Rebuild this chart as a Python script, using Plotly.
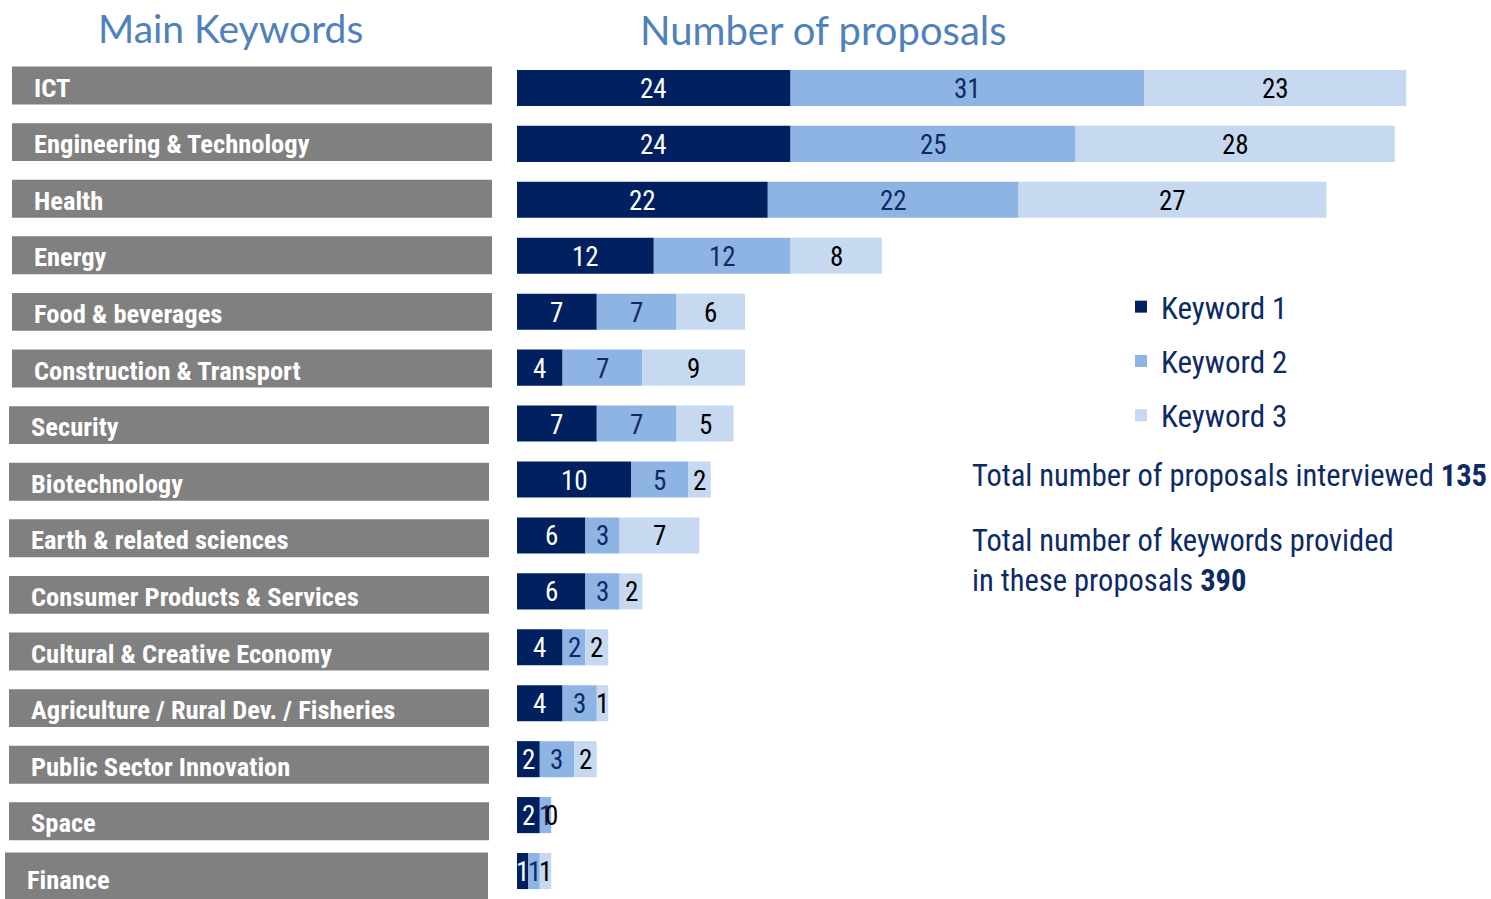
import plotly.graph_objects as go

categories = ["ICT", "Engineering & Technology", "Health", "Energy", "Food & beverages",
              "Construction & Transport", "Security", "Biotechnology", "Earth & related sciences",
              "Consumer Products & Services", "Cultural & Creative Economy",
              "Agriculture / Rural Dev. / Fisheries", "Public Sector Innovation", "Space", "Finance"]
keyword1 = [24, 24, 22, 12, 7, 4, 7, 10, 6, 6, 4, 4, 2, 2, 1]
keyword2 = [31, 25, 22, 12, 7, 7, 7, 5, 3, 3, 2, 3, 3, 1, 1]
keyword3 = [23, 28, 27, 8, 6, 9, 5, 2, 7, 2, 2, 1, 2, 0, 1]
series_names = ["Keyword 1", "Keyword 2", "Keyword 3"]
total_proposals = 135
total_keywords = 390

W, H = 1491, 899
TOP = 60
PH = H - TOP
NARROW = "Liberation Sans Narrow, Arial Narrow, Roboto Condensed, sans-serif"
colors = ["#002060", "#8EB4E3", "#C6D9F1"]
text_colors = ["#FFFFFF", "#0E2A66", "#000000"]
n = len(categories)
idx = list(range(n))


def py(px):
    """pixel row (from top of figure) -> paper y"""
    return (H - px) / PH


fig = go.Figure()
annotations = []

# grey category boxes (left panel)
box_left = [12 if i < 6 else (9 if i < n - 1 else 5) for i in idx]
box_len = [480] * (n - 1) + [483]
box_width = [0.67] * (n - 1) + [0.9]
fig.add_trace(go.Bar(
    y=idx, x=box_len, base=box_left, orientation="h",
    marker=dict(color="#808080", line=dict(width=0)), width=box_width,
    xaxis="x2", yaxis="y2", showlegend=False, hoverinfo="skip"))
for i, (cat, b) in enumerate(zip(categories, box_left)):
    annotations.append(dict(
        text=cat, x=b + 20, y=i, xref="x2", yref="y2", showarrow=False,
        xanchor="left", yanchor="middle", yshift=-1.5,
        font=dict(family=NARROW, size=26.5, color="white", weight="bold")))

# stacked bars
series = [keyword1, keyword2, keyword3]
cum = [0] * n
for name, vals, col, tcol in zip(series_names, series, colors, text_colors):
    fig.add_trace(go.Bar(
        y=idx, x=vals, base=cum, orientation="h", name=name,
        marker=dict(color=col, line=dict(width=0)), width=0.645,
        legendgroup=name, hoverinfo="x+name"))
    for i, (c, v) in enumerate(zip(cum, vals)):
        annotations.append(dict(
            text=str(v), x=c + v / 2, y=i, xref="x", yref="y", showarrow=False,
            xanchor="center", yanchor="middle", yshift=-1,
            font=dict(family=NARROW, size=27, color=tcol)))
    cum = [c + v for c, v in zip(cum, vals)]

title_font = "Lato, Open Sans, sans-serif"
annotations += [
    dict(text="Main Keywords", x=231 / W, y=py(28), xref="paper", yref="paper",
         showarrow=False, font=dict(family=title_font, size=39, color="#4F81BD"),
         xanchor="center", yanchor="middle"),
    dict(text="Number of proposals", x=823 / W, y=py(30), xref="paper", yref="paper",
         showarrow=False, font=dict(family=title_font, size=40, color="#4F81BD"),
         xanchor="center", yanchor="middle"),
    dict(text=f"Total number of proposals interviewed <b>{total_proposals}</b>",
         x=970 / W, y=py(476), xref="paper", yref="paper", showarrow=False,
         xanchor="left", yanchor="middle", align="left",
         font=dict(family=NARROW, size=30.5, color="#0E2A66")),
    dict(text=f"Total number of keywords provided<br>in these proposals <b>{total_keywords}</b>",
         x=970 / W, y=py(560), xref="paper", yref="paper", showarrow=False,
         xanchor="left", yanchor="middle", align="left",
         font=dict(family=NARROW, size=30.5, color="#0E2A66")),
]

px_per_unit = 11.4
x0_px = 517
fig.update_layout(
    width=W, height=H,
    margin=dict(l=0, r=0, t=TOP, b=0, pad=0),
    paper_bgcolor="white", plot_bgcolor="white",
    barmode="overlay",
    showlegend=True,
    legend=dict(x=1121 / W, y=py(280), xanchor="left", yanchor="top",
                font=dict(family=NARROW, size=31, color="#0E2A66"),
                tracegroupgap=11, bgcolor="rgba(0,0,0,0)", traceorder="grouped"),
    xaxis=dict(domain=[x0_px / W, 1], range=[0, (W - x0_px) / px_per_unit],
               visible=False, fixedrange=True),
    yaxis=dict(range=[n - 0.5, -0.5], visible=False, fixedrange=True),
    xaxis2=dict(domain=[0, 510 / W], range=[0, 510], visible=False, anchor="y2"),
    yaxis2=dict(range=[(H - 85.5) / 56.6, (TOP - 85.5) / 56.6], visible=False,
                anchor="x2", domain=[0, 1]),
    annotations=annotations,
)
fig.write_html("out.html", post_script="document.body.style.margin='0';",
               config={"displayModeBar": False})
